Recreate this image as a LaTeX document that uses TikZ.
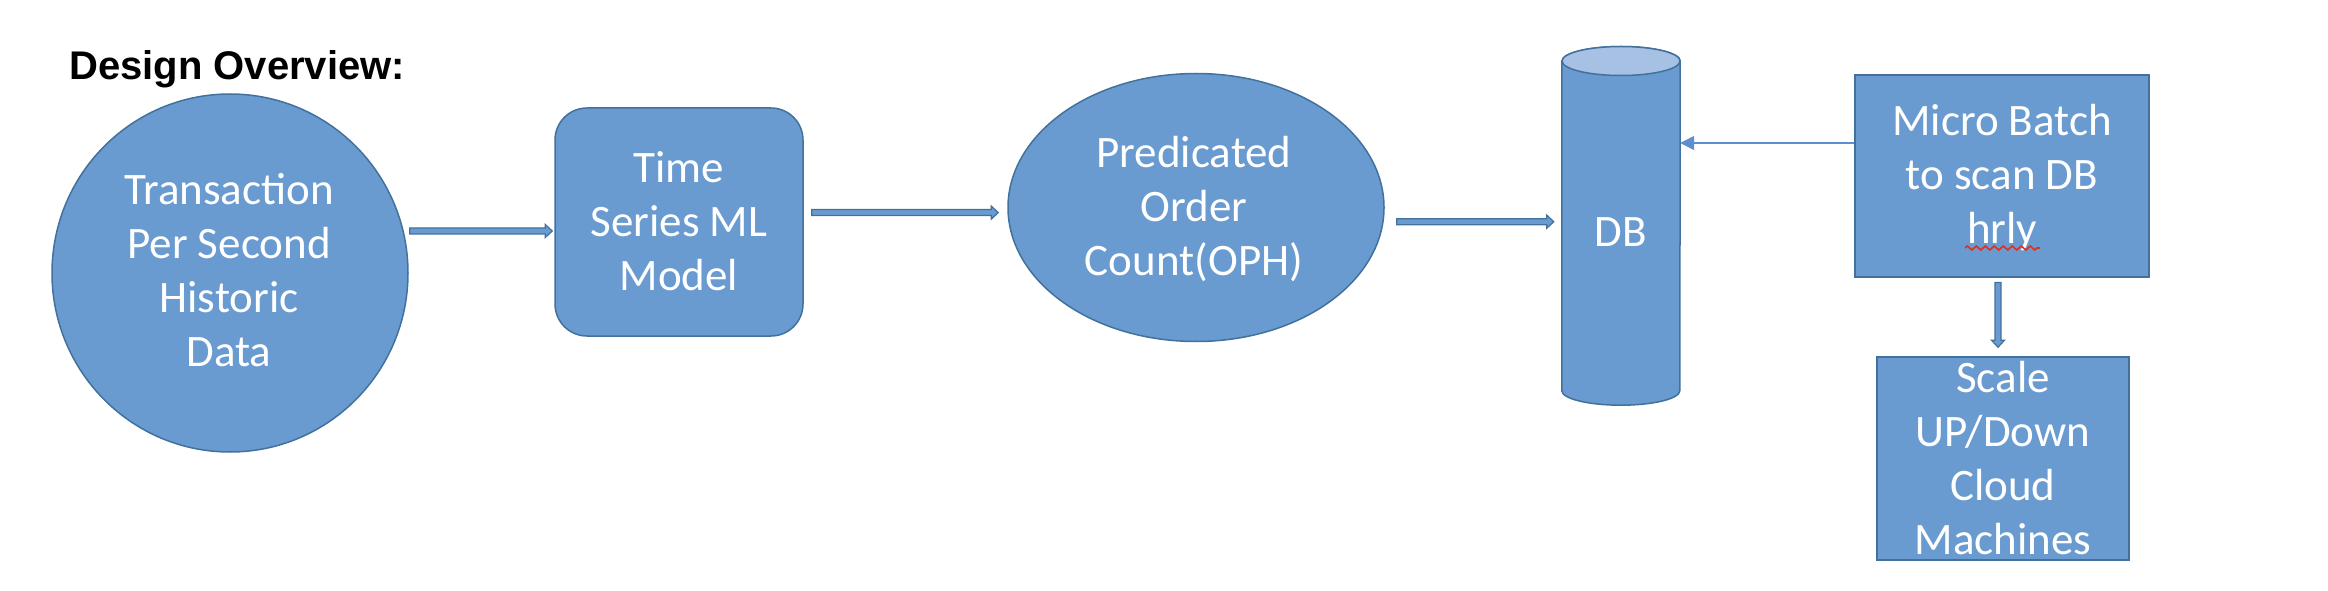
\documentclass[tikz,border=0pt]{standalone}
\usepackage{fontspec}
\setmainfont{Carlito}
\newfontfamily\titlefont{Liberation Sans}
\usetikzlibrary{calc,arrows.meta,decorations.pathmorphing,shapes.geometric}
\definecolor{shapefill}{RGB}{106,155,208}
\definecolor{shapeline}{RGB}{65,113,156}
\definecolor{cyltop}{RGB}{166,193,228}
\definecolor{thinarrow}{RGB}{91,143,207}
\definecolor{spellred}{RGB}{224,48,30}
\tikzset{
  shapebox/.style={fill=shapefill, draw=shapeline, line width=1.5pt, inner sep=0pt},
  txt/.style={text=white, font=\fontsize{45}{54}\selectfont, inner sep=0pt, anchor=base},
  barrow/.style={fill=shapefill, draw=shapeline, line width=1.2pt, line join=miter},
  thinarr/.style={draw=thinarrow, line width=1.5pt, -{Triangle[length=14pt,width=14pt]}},
  wavy/.style={draw=spellred, line width=1.6pt, decorate, decoration={zigzag, segment length=9pt, amplitude=2pt}}
}
\newcommand{\blockarrowh}[2]{\path[barrow] ($(#1)+(0,3)$) -- ($(#2)+(-7,3)$) -- ($(#2)+(-7,6.5)$) -- (#2) -- ($(#2)+(-7,-6.5)$) -- ($(#2)+(-7,-3)$) -- ($(#1)+(0,-3)$) -- cycle;}
\newcommand{\blockarrowv}[2]{\path[barrow] ($(#1)+(-3,0)$) -- ($(#2)+(-3,7)$) -- ($(#2)+(-6.5,7)$) -- (#2) -- ($(#2)+(6.5,7)$) -- ($(#2)+(3,7)$) -- ($(#1)+(3,0)$) -- cycle;}
\begin{document}
\begin{tikzpicture}[x=1pt,y=1pt]
\useasboundingbox (0,0) rectangle (2328,590);

% title
\node[anchor=base west, inner sep=0pt, font=\titlefont\bfseries\fontsize{40}{48}\selectfont] (title) at (69,510) {Design Overview:};

% transaction circle
\node[shapebox, ellipse, minimum width=356pt, minimum height=358pt] (tps) at (230,317) {};
\node[txt] (tpsT) at ($(tps.center)+(-1,68)$) {\begin{tabular}[t]{@{}c@{}}Transaction\\Per Second\\Historic\\Data\end{tabular}};

% time series model
\node[shapebox, rectangle, rounded corners=32pt, minimum width=248pt, minimum height=228pt] (tsm) at (679,368) {};
\node[txt] (tsmT) at ($(tsm.center)+(0,39)$) {\begin{tabular}[t]{@{}c@{}}Time\\Series ML\\Model\end{tabular}};

% predicated ellipse
\node[shapebox, ellipse, minimum width=376pt, minimum height=268pt] (poc) at (1196,382.5) {};
\node[txt] (pocT) at ($(poc.center)+(-2,39.5)$) {\begin{tabular}[t]{@{}c@{}}Predicated\\Order\\Count(OPH)\end{tabular}};

% DB cylinder
\node[minimum width=118pt, minimum height=358.3pt, inner sep=0pt] (db) at (1621,364.15) {};
\path[shapebox] ($(db.north west)+(0,-14.5)$) -- ($(db.south west)+(0,14.5)$)
  arc[start angle=180, end angle=360, x radius=59, y radius=14.5]
  -- ($(db.north east)+(0,-14.5)$)
  arc[start angle=0, end angle=180, x radius=59, y radius=14.5] -- cycle;
\path[shapebox, fill=cyltop] ($(db.north)+(0,-14.5)$) ellipse[x radius=59, y radius=14.5];
\node[txt] (dbT) at ($(db.center)+(0,-21)$) {DB};

% micro batch
\node[shapebox, rectangle, minimum width=294pt, minimum height=202pt] (mb) at (2002,414) {};
\node[txt] (mbT) at ($(mb.center)+(0,40)$) {\begin{tabular}[t]{@{}c@{}}Micro Batch\\to scan DB\\hrly\end{tabular}};
\coordinate (wavyL) at ($(mb.center)+(-37,-72)$);
\coordinate (wavyR) at ($(mb.center)+(38,-72)$);
\path[wavy] (wavyL) -- (wavyR);

% scale box
\node[shapebox, rectangle, minimum width=252pt, minimum height=203pt] (sc) at (2003,131.5) {};
\node[txt] (scT) at ($(sc.center)+(0,66.5)$) {\begin{tabular}[t]{@{}c@{}}Scale\\UP/Down\\Cloud\\Machines\end{tabular}};

% block arrows
\coordinate (a1s) at ($(tps.east)+(1,42)$);
\coordinate (a1e) at ($(tsm.west |- a1s)+(-2,0)$);
\blockarrowh{a1s}{a1e}
\coordinate (a2s) at ($(tsm.east)+(8,9.4)$);
\coordinate (a2e) at ($(poc.west |- a2s)+(-9,0)$);
\blockarrowh{a2s}{a2e}
\coordinate (a3s) at ($(poc.east)+(12,-14.2)$);
\coordinate (a3e) at ($(db.west |- a3s)+(-8,0)$);
\blockarrowh{a3s}{a3e}
\coordinate (a4s) at ($(mb.south)+(-4,-4.7)$);
\coordinate (a4e) at ($(sc.north -| a4s)+(0,9)$);
\blockarrowv{a4s}{a4e}

% thin arrow micro batch -> DB
\coordinate (a5s) at ($(mb.west)+(0,33)$);
\draw[thinarr] (a5s) -- (db.east |- a5s);
\end{tikzpicture}
\end{document}
